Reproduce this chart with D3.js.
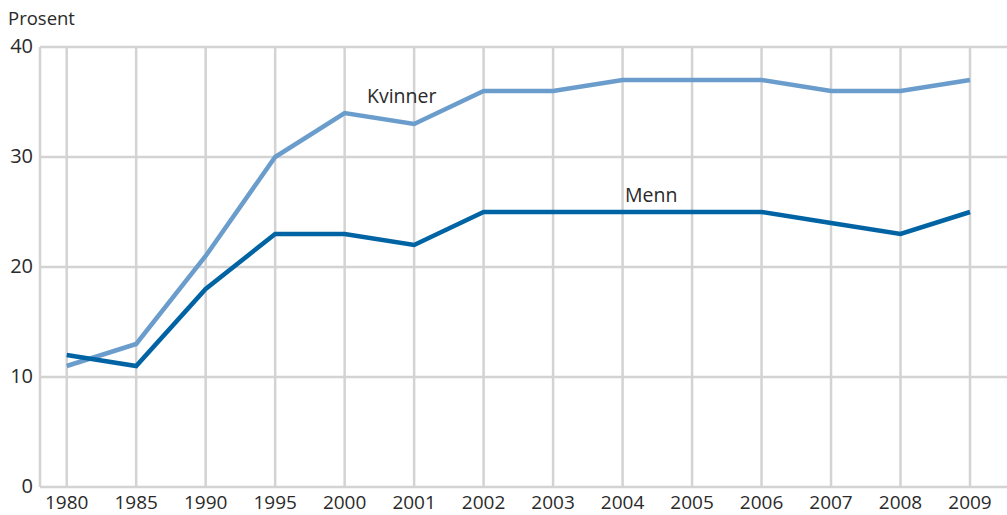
<!DOCTYPE html>
<html>
<head>
<meta charset="utf-8">
<script src="https://cdn.jsdelivr.net/npm/d3@7"></script>
<style>
  html, body { margin: 0; padding: 0; background: #fff; }
  svg { display: block; font-family: "Open Sans", "Noto Sans", sans-serif; }
</style>
</head>
<body>
<svg id="chart" width="1007" height="515"></svg>
<script>
// Share of population, per cent, by year
const years = ["1980", "1985", "1990", "1995", "2000", "2001", "2002", "2003", "2004", "2005", "2006", "2007", "2008", "2009"];
const kvinner = [11, 13, 21, 30, 34, 33, 36, 36, 37, 37, 37, 36, 36, 37];
const menn = [12, 11, 18, 23, 23, 22, 25, 25, 25, 25, 25, 24, 23, 25];
const yTicks = [0, 10, 20, 30, 40];

const svg = d3.select("#chart");
const plotLeft = 40, plotRight = 1007, plotTop = 47, plotBottom = 487;

const x = d3.scalePoint().domain(years).range([66.7, 970]);
const y = d3.scaleLinear().domain([0, 40]).range([plotBottom, plotTop]);

const grid = "#d3d3d3";
const ink = "#2a2a2a";

// horizontal gridlines
svg.append("g").selectAll("line").data(yTicks).join("line")
  .attr("x1", plotLeft).attr("x2", plotRight)
  .attr("y1", d => y(d)).attr("y2", d => y(d))
  .attr("stroke", grid).attr("stroke-width", 2.5);

// vertical gridlines (y axis line + one per year)
svg.append("line")
  .attr("x1", plotLeft).attr("x2", plotLeft).attr("y1", plotTop).attr("y2", plotBottom)
  .attr("stroke", grid).attr("stroke-width", 2.5);
svg.append("g").selectAll("line").data(years).join("line")
  .attr("x1", d => x(d)).attr("x2", d => x(d))
  .attr("y1", plotTop).attr("y2", plotBottom)
  .attr("stroke", grid).attr("stroke-width", 2.5);

// y tick labels
svg.append("g").selectAll("text").data(yTicks).join("text")
  .attr("x", 33).attr("y", d => y(d) + 6)
  .attr("text-anchor", "end")
  .attr("font-size", 20).attr("fill", ink)
  .text(d => d);

// x tick labels
svg.append("g").selectAll("text").data(years).join("text")
  .attr("x", d => x(d)).attr("y", 509)
  .attr("text-anchor", "middle")
  .attr("font-size", 19).attr("fill", ink)
  .text(d => d);

// axis title
svg.append("text").attr("x", 8).attr("y", 25)
  .attr("font-size", 18.5).attr("fill", ink).text("Prosent");

const line = d3.line().x((d, i) => x(years[i])).y(d => y(d));

svg.append("path").datum(kvinner)
  .attr("d", line).attr("fill", "none")
  .attr("stroke", "#6b9dcc").attr("stroke-width", 4.5)
  .attr("stroke-linejoin", "miter");

svg.append("path").datum(menn)
  .attr("d", line).attr("fill", "none")
  .attr("stroke", "#0063a3").attr("stroke-width", 4.5)
  .attr("stroke-linejoin", "miter");

// series labels
svg.append("text").attr("x", 367).attr("y", 103)
  .attr("font-size", 19.5).attr("fill", ink).text("Kvinner");
svg.append("text").attr("x", 625).attr("y", 202)
  .attr("font-size", 19.5).attr("fill", ink).text("Menn");
</script>
</body>
</html>
